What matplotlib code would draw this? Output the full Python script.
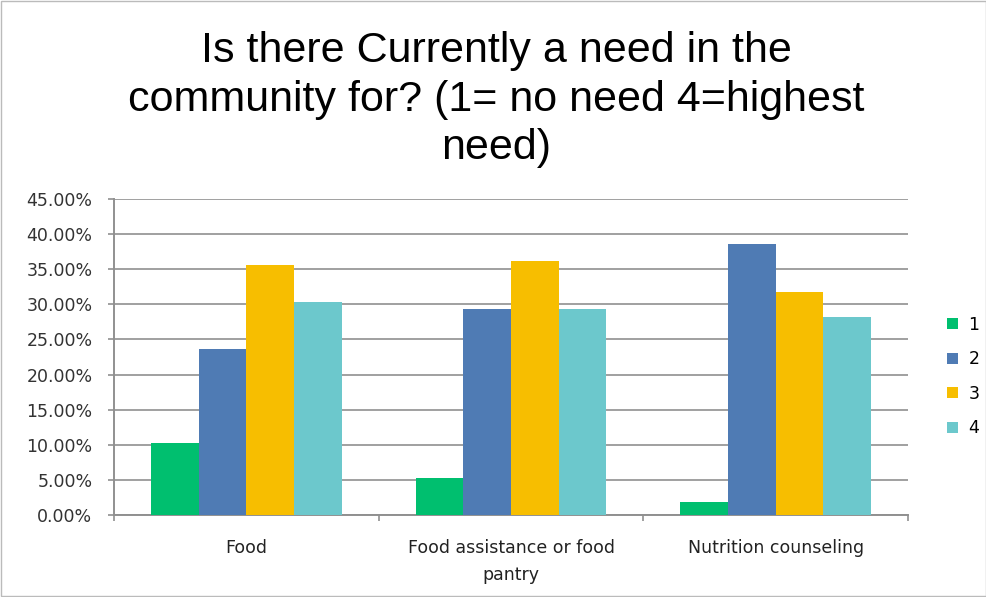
import matplotlib
matplotlib.use("Agg")
from matplotlib import pyplot as plt
from matplotlib.patches import Rectangle
import numpy as np

categories = ["Food", "Food assistance or food\npantry", "Nutrition counseling"]
series_names = ["1", "2", "3", "4"]
need_1 = [10.2, 5.3, 1.8]
need_2 = [23.6, 29.4, 38.6]
need_3 = [35.6, 36.1, 31.7]
need_4 = [30.4, 29.4, 28.2]
colors = ["#00BF6F", "#4F7BB4", "#F7BE00", "#6CC8CC"]

plt.rcParams["font.family"] = ["DejaVu Sans"]

fig = plt.figure(figsize=(9.87, 5.97), dpi=100)
ax = fig.add_axes([0.1155, 0.1374, 0.8045, 0.5293])

x = np.arange(len(categories))
width = 0.18
series = [need_1, need_2, need_3, need_4]
for i, vals in enumerate(series):
    ax.bar(x + (i - 1.5) * width, vals, width, color=colors[i], label=series_names[i],
           zorder=3)

ax.set_xlim(-0.5, 2.5)
ax.set_ylim(0, 45)
ax.set_yticks(np.arange(0, 46, 5))
ax.set_yticklabels(["%.2f%%" % v for v in np.arange(0, 46, 5)], fontsize=12.5,
                   color="#333333")
ax.yaxis.grid(True, color="#A0A0A0", linewidth=1.4, zorder=0)
ax.set_xticks(x)
ax.set_xticklabels(categories, fontsize=12.5, linespacing=1.65, color="#222222")
ax.set_xticks([-0.5, 0.5, 1.5, 2.5], minor=True)
ax.tick_params(axis="x", which="major", length=0, pad=17)
ax.tick_params(axis="x", which="minor", length=4.5, color="#909090", width=1.2)
ax.tick_params(axis="y", length=4.5, color="#909090", width=1.2, pad=11)

for s in ["top", "right"]:
    ax.spines[s].set_visible(False)
for s in ["left", "bottom"]:
    ax.spines[s].set_color("#909090")
    ax.spines[s].set_linewidth(1.4)

fig.text(0.503, 0.833, "Is there Currently a need in the\ncommunity for? (1= no need 4=highest\nneed)",
         ha="center", va="center", fontsize=31, family="Liberation Sans", linespacing=1.27)

ax.legend(loc="center left", bbox_to_anchor=(1.03, 0.438), frameon=False, fontsize=12.5,
          handlelength=0.6, handleheight=0.6, labelspacing=0.95, handletextpad=0.6)

fig.add_artist(Rectangle((0.001, 0.001), 0.998, 0.998, transform=fig.transFigure,
                         fill=False, edgecolor="#BBBBBB", linewidth=1))

plt.savefig("out.png", dpi=100)
